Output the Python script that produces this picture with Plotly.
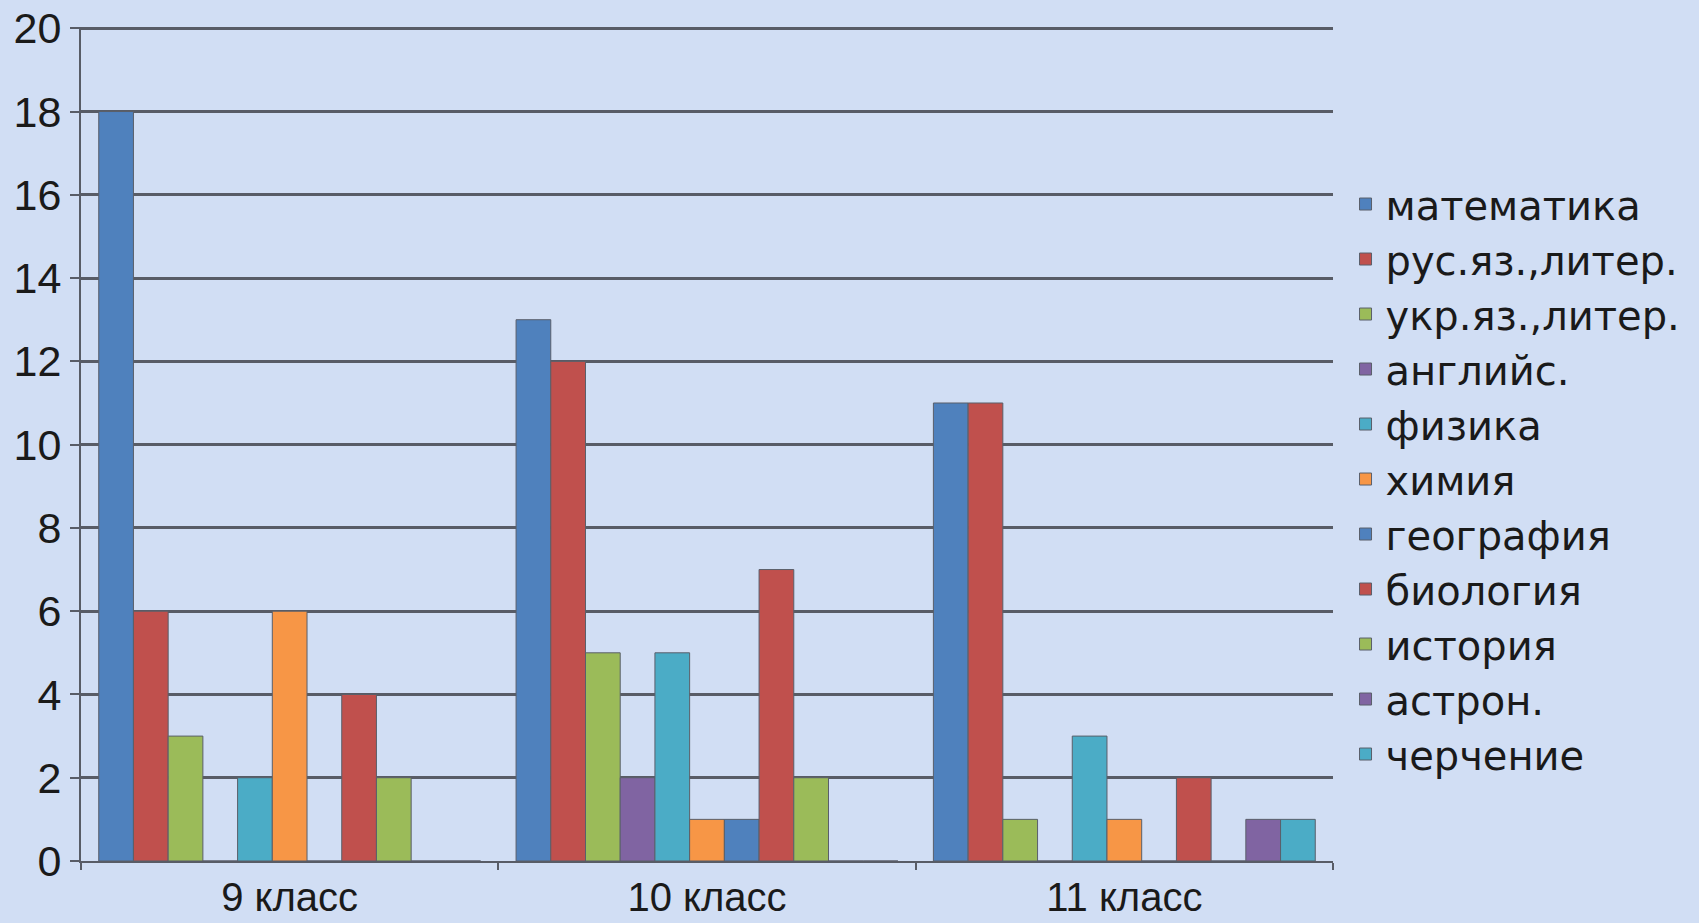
import plotly.graph_objects as go

categories = ["9 класс", "10 класс", "11 класс"]
series_names = ["математика", "рус.яз.,литер.", "укр.яз.,литер.", "английс.", "физика",
                "химия", "география", "биология", "история", "астрон.", "черчение"]
values = {
    "математика":     [18, 13, 11],
    "рус.яз.,литер.": [6, 12, 11],
    "укр.яз.,литер.": [3, 5, 1],
    "английс.":       [0, 2, 0],
    "физика":         [2, 5, 3],
    "химия":          [6, 1, 1],
    "география":      [0, 1, 0],
    "биология":       [4, 7, 2],
    "история":        [2, 2, 0],
    "астрон.":        [0, 0, 1],
    "черчение":       [0, 0, 1],
}
colors = ["#4F81BD", "#C0504D", "#9BBB59", "#8064A2", "#4BACC6",
          "#F79646", "#4F81BD", "#C0504D", "#9BBB59", "#8064A2", "#4BACC6"]
y_ticks = [0, 2, 4, 6, 8, 10, 12, 14, 16, 18, 20]

BG = "#d1def4"
GRID = "#585c66"
FONT = "Liberation Sans, Arial, sans-serif"
LEGFONT = "DejaVu Sans, sans-serif"

fig = go.Figure()
for name, col in zip(series_names, colors):
    fig.add_trace(go.Bar(
        x=categories, y=values[name], name=name,
        marker=dict(color=col, line=dict(color="#5a5f6a", width=1)),
    ))

fig.update_layout(
    width=1699, height=923,
    barmode="group", bargap=0.085, bargroupgap=0,
    paper_bgcolor=BG, plot_bgcolor=BG,
    margin=dict(l=81, r=366, t=27, b=62, autoexpand=False),
    font=dict(family=FONT, size=42, color="#1a1a1a"),
    legend=dict(
        x=1.010, xanchor="left", y=0.458, yanchor="middle",
        font=dict(size=40, family=LEGFONT, color="#1a1a1a"),
        bgcolor="rgba(0,0,0,0)", tracegroupgap=0,
        itemwidth=30, traceorder="normal",
    ),
    showlegend=True,
)
fig.update_xaxes(
    type="category", showgrid=False, automargin=False,
    showline=True, linecolor=GRID, linewidth=2,
    ticks="outside", tickson="boundaries", ticklen=7, tickcolor=GRID, tickwidth=2,
    ticklabelstandoff=0,
    tickfont=dict(size=40, family=FONT, color="#1a1a1a"),
)
fig.update_yaxes(
    range=[0, 20.03], tickvals=y_ticks, ticktext=[str(v) for v in y_ticks],
    showgrid=True, gridcolor=GRID, gridwidth=3, automargin=False,
    showline=True, linecolor=GRID, linewidth=2,
    ticks="outside", ticklen=9, tickcolor=GRID, tickwidth=2,
    tickfont=dict(size=43, family=FONT, color="#1a1a1a"),
    zeroline=False,
)

fig.write_html("out.html", config={"displayModeBar": False},
               post_script="document.body.style.margin='0';document.body.style.overflow='hidden';")
